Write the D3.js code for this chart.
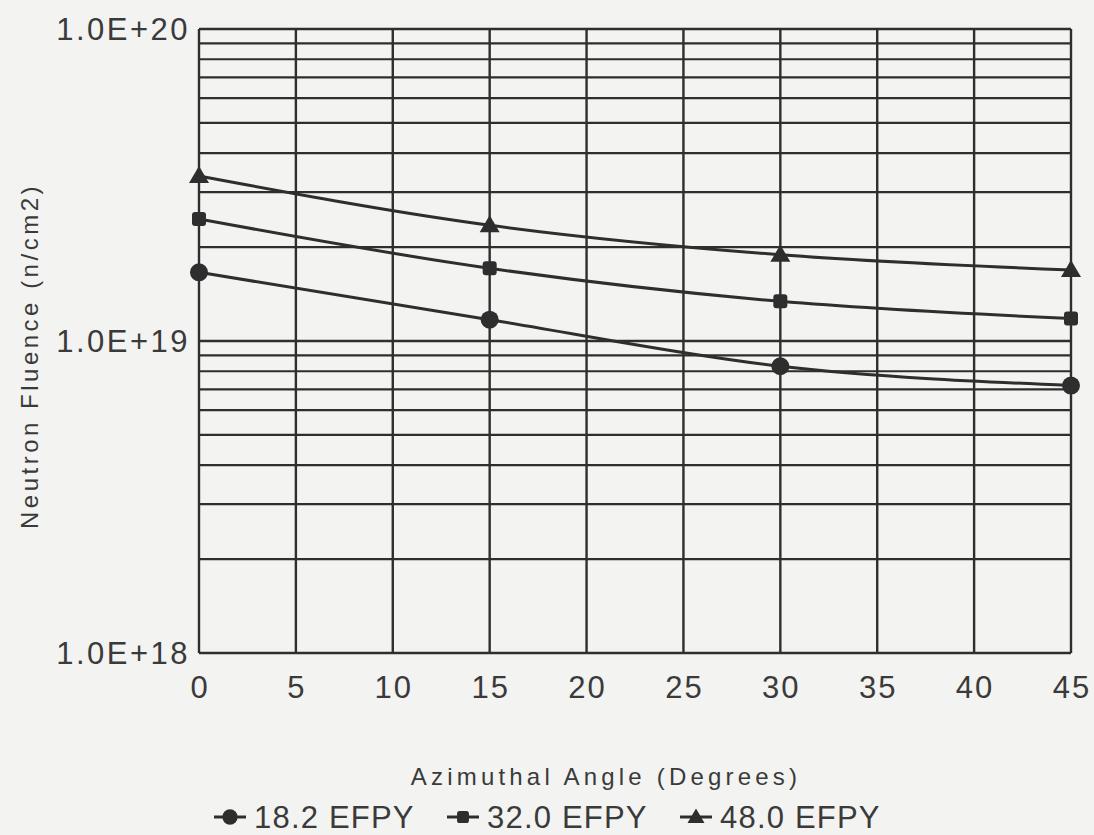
<!DOCTYPE html>
<html>
<head>
<meta charset="utf-8">
<script src="https://cdn.jsdelivr.net/npm/d3@7/dist/d3.min.js"></script>
<style>
  html, body { margin: 0; padding: 0; background: #f3f3f1; }
  svg { display: block; }
  text { font-family: "Liberation Sans", Arial, Helvetica, sans-serif; fill: #3a3a3a; }
</style>
</head>
<body>
<svg id="chart" width="1094" height="835"></svg>
<script>
// ---- data ----
const angles = [0, 15, 30, 45];
const seriesNames = ["18.2 EFPY", "32.0 EFPY", "48.0 EFPY"];
const fluence182 = [1.66e19, 1.17e19, 8.3e18, 7.2e18];
const fluence320 = [2.46e19, 1.71e19, 1.34e19, 1.18e19];
const fluence480 = [3.38e19, 2.35e19, 1.89e19, 1.69e19];
const xTicks = [0, 5, 10, 15, 20, 25, 30, 35, 40, 45];
const yTickValues = [1e18, 1e19, 1e20];
const yTickLabels = ["1.0E+18", "1.0E+19", "1.0E+20"];
const xTitle = "Azimuthal Angle (Degrees)";
const yTitle = "Neutron Fluence (n/cm2)";

const seriesValues = [fluence182, fluence320, fluence480];
const seriesShapes = ["circle", "square", "triangle"];

// ---- layout ----
const svg = d3.select("#chart");
const L = 199, R = 1071, T = 29, B = 653;
const x = d3.scaleLinear().domain([0, 45]).range([L, R]);
const y = d3.scaleLog().domain([1e18, 1e20]).range([B, T]);
const ink = "#2e2e2e";

// grid: minor log lines
const minor = [];
[1e18, 1e19].forEach(d => { for (let k = 2; k <= 9; k++) minor.push(d * k); });
svg.append("g").selectAll("line").data(minor).join("line")
  .attr("x1", L).attr("x2", R)
  .attr("y1", d => y(d)).attr("y2", d => y(d))
  .attr("stroke", ink).attr("stroke-width", 2.2);
// major horizontal
svg.append("g").selectAll("line").data(yTickValues).join("line")
  .attr("x1", L).attr("x2", R)
  .attr("y1", d => y(d)).attr("y2", d => y(d))
  .attr("stroke", ink).attr("stroke-width", 2.4);
// vertical grid
svg.append("g").selectAll("line").data(xTicks).join("line")
  .attr("x1", d => x(d)).attr("x2", d => x(d))
  .attr("y1", T).attr("y2", B)
  .attr("stroke", ink).attr("stroke-width", 2.4);

// tick labels
svg.append("g").selectAll("text").data(yTickValues).join("text")
  .attr("x", 190).attr("y", d => y(d)).attr("dy", "0.36em")
  .attr("text-anchor", "end")
  .style("font-size", "31px").style("letter-spacing", "2.5px")
  .text((d, i) => yTickLabels[i]);
svg.append("g").selectAll("text").data(xTicks).join("text")
  .attr("x", d => x(d) + 1).attr("y", 698)
  .attr("text-anchor", "middle")
  .style("font-size", "31px").style("letter-spacing", "2px")
  .text(d => d);

// axis titles
svg.append("text").attr("x", 606).attr("y", 785)
  .attr("text-anchor", "middle")
  .style("font-size", "24px").style("letter-spacing", "4.2px")
  .text(xTitle);
svg.append("text")
  .attr("transform", "translate(38,356) rotate(-90)")
  .attr("text-anchor", "middle")
  .style("font-size", "24px").style("letter-spacing", "3.5px")
  .text(yTitle);

// series
const line = d3.line().x(d => x(d[0])).y(d => y(d[1])).curve(d3.curveMonotoneX);
function marker(g, shape, cx, cy, s) {
  if (shape === "circle") {
    g.append("circle").attr("cx", cx).attr("cy", cy).attr("r", 9 * s).attr("fill", ink);
  } else if (shape === "square") {
    g.append("rect").attr("x", cx - 7 * s).attr("y", cy - 7 * s)
      .attr("width", 14 * s).attr("height", 14 * s).attr("rx", 3 * s).attr("fill", ink);
  } else {
    g.append("path").attr("d", `M${cx},${cy - 10 * s} L${cx + 10 * s},${cy + 7 * s} L${cx - 10 * s},${cy + 7 * s} Z`)
      .attr("fill", ink);
  }
}
seriesValues.forEach((vals, i) => {
  const pts = angles.map((a, j) => [a, vals[j]]);
  const g = svg.append("g");
  g.append("path").attr("d", line(pts)).attr("fill", "none")
    .attr("stroke", ink).attr("stroke-width", 3);
  pts.forEach(p => marker(g, seriesShapes[i], x(p[0]), y(p[1]), 1));
});

// legend
const legendY = 817;
const legendX = [230, 463, 696];
seriesNames.forEach((name, i) => {
  const g = svg.append("g");
  const cx = legendX[i];
  g.append("line").attr("x1", cx - 16).attr("x2", cx + 16)
    .attr("y1", legendY).attr("y2", legendY).attr("stroke", ink).attr("stroke-width", 3);
  marker(g, seriesShapes[i], cx, legendY, 0.85);
  g.append("text").attr("x", cx + 24).attr("y", legendY).attr("dy", "0.36em")
    .style("font-size", "31px").style("letter-spacing", "1.2px")
    .text(name);
});
</script>
</body>
</html>
